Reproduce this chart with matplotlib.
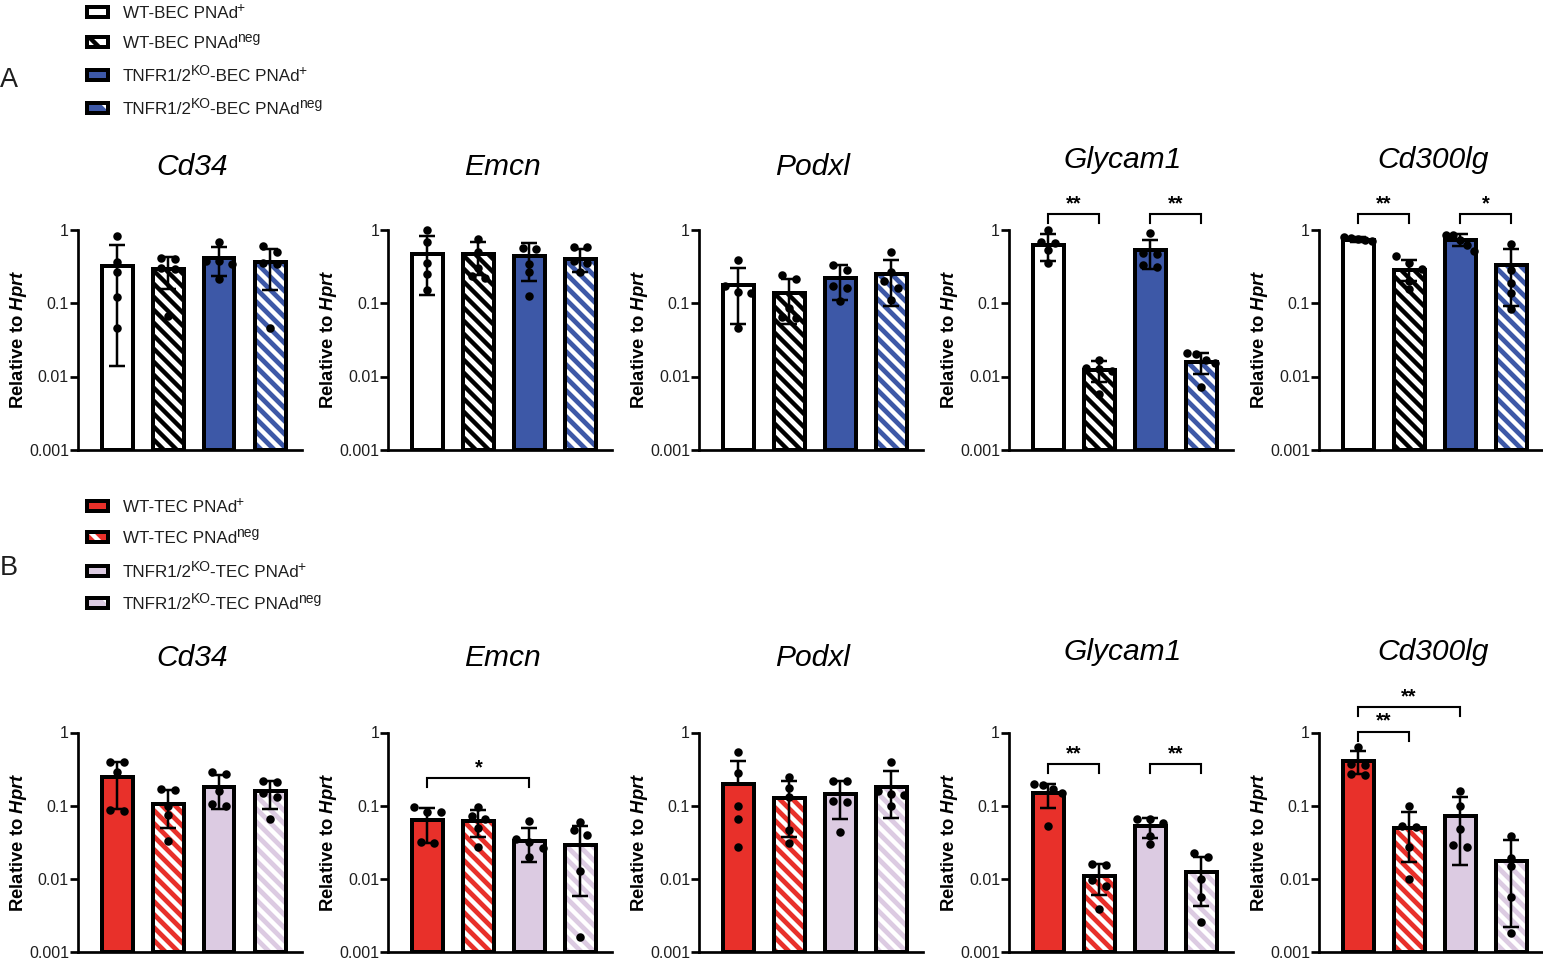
import re
import numpy as np
import matplotlib
matplotlib.use("Agg")
import matplotlib.pyplot as plt
from matplotlib.patches import Rectangle
from matplotlib.ticker import NullLocator, FixedLocator, FixedFormatter

# ---------------- data ----------------
genes = ["Cd34", "Emcn", "Podxl", "Glycam1", "Cd300lg"]

# legend labels, ^{...} marks a superscript
bec_labels = ["WT-BEC PNAd^{+}", "WT-BEC PNAd^{neg}",
              "TNFR1/2^{KO}-BEC PNAd^{+}", "TNFR1/2^{KO}-BEC PNAd^{neg}"]
tec_labels = ["WT-TEC PNAd^{+}", "WT-TEC PNAd^{neg}",
              "TNFR1/2^{KO}-TEC PNAd^{+}", "TNFR1/2^{KO}-TEC PNAd^{neg}"]

# BEC (panel A): bar heights, error bar upper / lower ends, individual points
bec_mean = [[0.316, 0.294, 0.41, 0.36],
            [0.47, 0.46, 0.43, 0.40],
            [0.175, 0.135, 0.22, 0.245],
            [0.61, 0.0124, 0.52, 0.0158],
            [0.73, 0.285, 0.72, 0.327]]
bec_hi = [[0.61, 0.42, 0.58, 0.55],
          [0.81, 0.68, 0.65, 0.55],
          [0.295, 0.215, 0.33, 0.39],
          [0.86, 0.0165, 0.72, 0.021],
          [0.78, 0.38, 0.88, 0.55]]
bec_lo = [[0.0138, 0.157, 0.23, 0.149],
          [0.128, 0.24, 0.20, 0.26],
          [0.051, 0.051, 0.11, 0.09],
          [0.37, 0.0083, 0.29, 0.0107],
          [0.68, 0.20, 0.60, 0.09]]
bec_pts = [[[0.82, 0.36, 0.26, 0.12, 0.045], [0.41, 0.40, 0.30, 0.29, 0.066],
            [0.68, 0.37, 0.37, 0.34, 0.21], [0.60, 0.50, 0.35, 0.34, 0.045]],
           [[1.0, 0.67, 0.35, 0.25, 0.15], [0.75, 0.50, 0.30, 0.23, 0.22],
            [0.56, 0.55, 0.34, 0.26, 0.125], [0.58, 0.57, 0.37, 0.35, 0.26]],
           [[0.38, 0.17, 0.14, 0.135, 0.045], [0.24, 0.21, 0.085, 0.065, 0.062],
            [0.33, 0.28, 0.17, 0.16, 0.105], [0.50, 0.26, 0.20, 0.16, 0.11]],
           [[0.98, 0.68, 0.66, 0.52, 0.35], [0.017, 0.013, 0.0125, 0.012, 0.0058],
            [0.90, 0.48, 0.46, 0.33, 0.31], [0.021, 0.020, 0.017, 0.0155, 0.0072]],
           [[0.78, 0.76, 0.74, 0.72, 0.70], [0.43, 0.35, 0.29, 0.20, 0.157],
            [0.85, 0.84, 0.72, 0.61, 0.51], [0.64, 0.28, 0.19, 0.135, 0.084]]]
# significance: (bar i, bar j, bracket height, label)
bec_sig = [[], [], [],
           [(0, 1, 1.6, "**"), (2, 3, 1.6, "**")],
           [(0, 1, 1.6, "**"), (2, 3, 1.6, "*")]]

# TEC (panel B)
tec_mean = [[0.247, 0.107, 0.18, 0.16],
            [0.064, 0.062, 0.033, 0.029],
            [0.20, 0.126, 0.143, 0.18],
            [0.15, 0.0108, 0.052, 0.0124],
            [0.41, 0.049, 0.073, 0.0178]]
tec_hi = [[0.40, 0.166, 0.26, 0.22],
          [0.094, 0.087, 0.05, 0.052],
          [0.41, 0.22, 0.22, 0.30],
          [0.20, 0.0162, 0.067, 0.020],
          [0.55, 0.081, 0.13, 0.0335]]
tec_lo = [[0.091, 0.049, 0.091, 0.091],
          [0.031, 0.037, 0.017, 0.0058],
          [np.nan, 0.037, 0.065, 0.067],
          [0.092, 0.006, 0.036, 0.0042],
          [0.27, 0.0168, 0.0153, 0.0022]]
tec_pts = [[[0.40, 0.39, 0.29, 0.087, 0.085], [0.17, 0.165, 0.10, 0.074, 0.033],
            [0.29, 0.27, 0.16, 0.105, 0.10], [0.22, 0.21, 0.15, 0.13, 0.066]],
           [[0.095, 0.083, 0.082, 0.032, 0.031], [0.096, 0.072, 0.065, 0.05, 0.027],
            [0.062, 0.035, 0.032, 0.026, 0.020], [0.059, 0.046, 0.04, 0.0128, 0.0016]],
           [[0.54, 0.28, 0.098, 0.066, 0.027], [0.25, 0.175, 0.13, 0.046, 0.031],
            [0.22, 0.215, 0.116, 0.113, 0.043], [0.39, 0.16, 0.145, 0.14, 0.098]],
           [[0.20, 0.19, 0.17, 0.15, 0.052], [0.016, 0.0155, 0.0095, 0.008, 0.0039],
            [0.066, 0.065, 0.058, 0.038, 0.030], [0.0225, 0.020, 0.0098, 0.0056, 0.0026]],
           [[0.64, 0.37, 0.36, 0.27, 0.26], [0.098, 0.052, 0.051, 0.027, 0.010],
            [0.16, 0.10, 0.048, 0.029, 0.027], [0.039, 0.019, 0.015, 0.0056, 0.0018]]]
tec_sig = [[], [(0, 2, 0.236, "*")], [],
           [(0, 1, 0.366, "**"), (2, 3, 0.366, "**")],
           [(0, 1, 1.02, "**"), (0, 2, 2.23, "**")]]

yticks = [0.001, 0.01, 0.1, 1]
ytick_labels = ["0.001", "0.01", "0.1", "1"]

# ---------------- style ----------------
DPI = 78
W, H = 1543, 959


def P(px):
    return px * 72.0 / DPI


plt.rcParams['font.family'] = ['Liberation Sans', 'DejaVu Sans']
plt.rcParams['mathtext.fontset'] = 'custom'
plt.rcParams['mathtext.rm'] = 'Liberation Sans'
plt.rcParams['mathtext.it'] = 'Liberation Sans:italic:bold'
plt.rcParams['mathtext.bf'] = 'Liberation Sans:bold'
plt.rcParams['hatch.linewidth'] = P(4.4)

HATCH = '\\\\'
BLUE = "#3D58A7"
RED = "#E8302A"
LAV = "#DCCBE2"
TXT = "#1E1E1E"
bec_face = ["white", "white", BLUE, BLUE]
bec_hcol = [None, "black", None, "white"]
tec_face = [RED, RED, LAV, LAV]
tec_hcol = [None, "white", None, "white"]

fig = plt.figure(figsize=(W / DPI, H / DPI), dpi=DPI)
renderer = fig.canvas.get_renderer()


def fx(px):
    return px / W


def fy(py):
    return 1 - py / H


AX_LEFT = [78, 388.5, 699, 1009, 1319]
AX_W = 224
PX_PER_UNIT = 51.0
XMIN = -39.0 / PX_PER_UNIT
XMAX = XMIN + AX_W / PX_PER_UNIT
BAR_W = 31.0 / PX_PER_UNIT
EDGE = P(4)
LABEL_X = 49  # px from axis line to y-label baseline


def offsets(vals, px_per_dec):
    lv = np.log10(np.asarray(vals, float))
    order = np.argsort(-lv)
    off = np.zeros(len(lv))
    clusters = []
    cur = [order[0]]
    for k in order[1:]:
        if (lv[cur[-1]] - lv[k]) * px_per_dec < 7.5:
            cur.append(k)
        else:
            clusters.append(cur)
            cur = [k]
    clusters.append(cur)
    for c in clusters:
        n = len(c)
        if n > 1:
            sp = min(0.26, 0.55 / (n - 1))
            for m, k in enumerate(c):
                off[k] = (m - (n - 1) / 2) * sp
    return off


def draw_row(top, bot, means, his, los, pts, sigs, faces, hcols, title_y):
    px_per_dec = (bot - top) / 3.0
    for g in range(5):
        ax = fig.add_axes([fx(AX_LEFT[g]), fy(bot), AX_W / W, (bot - top) / H])
        ax.set_yscale('log')
        ax.set_ylim(1e-3, 1)
        ax.set_xlim(XMIN, XMAX)
        for b in range(4):
            m = means[g][b]
            if hcols[b] is not None:
                ax.bar(b, m - 1e-3, bottom=1e-3, width=BAR_W, color=faces[b],
                       edgecolor=hcols[b], linewidth=0, hatch=HATCH, zorder=1)
            else:
                ax.bar(b, m - 1e-3, bottom=1e-3, width=BAR_W, color=faces[b],
                       linewidth=0, zorder=1)
            ax.bar(b, m - 1e-3, bottom=1e-3, width=BAR_W, facecolor='none',
                   edgecolor='black', linewidth=EDGE, zorder=2)
            lo = los[g][b]
            lower = 0.0 if np.isnan(lo) else m - lo
            ax.errorbar([b], [m], yerr=[[lower], [his[g][b] - m]], fmt='none',
                        ecolor='black', elinewidth=P(2.5), capsize=P(8),
                        capthick=P(2.5), zorder=3)
            v = pts[g][b]
            ax.scatter(b + offsets(v, px_per_dec), v, s=P(8.5) ** 2, color='black',
                       linewidths=0, zorder=4, clip_on=False)
        for (i, j, yb, lab) in sigs[g]:
            yt = yb / 10 ** (9.0 / px_per_dec)
            ax.plot([i, i, j, j], [yt, yb, yb, yt], color='black', lw=P(2.1),
                    clip_on=False, solid_joinstyle='miter')
            ax.annotate(lab, xy=((i + j) / 2, yb), xytext=(0, P(1)),
                        textcoords='offset points', ha='center', va='bottom',
                        fontsize=P(20), fontweight='bold', annotation_clip=False)
        for s in ['top', 'right']:
            ax.spines[s].set_visible(False)
        for s in ['left', 'bottom']:
            ax.spines[s].set_linewidth(P(2.7))
        ax.yaxis.set_major_locator(FixedLocator(yticks))
        ax.yaxis.set_major_formatter(FixedFormatter(ytick_labels))
        ax.yaxis.set_minor_locator(NullLocator())
        ax.set_xticks([])
        ax.tick_params(axis='y', length=P(8), width=P(2.7), pad=P(1),
                       labelsize=P(16), labelcolor=TXT)
        ax.set_ylabel("Relative to $\\mathit{Hprt}$", fontsize=P(18.5),
                      fontweight='bold', labelpad=0)
        ax.yaxis.set_label_coords(-LABEL_X / AX_W, 0.5)
        fig.text(fx(AX_LEFT[g] + 114), fy(title_y[g]), genes[g], ha='center',
                 va='center', fontsize=P(30), fontstyle='italic')


def rich_text(x_px, y_base_px, label, size_px):
    parts = [p for p in re.split(r'(\^\{[^}]*\})', label) if p]
    x = x_px
    for k, part in enumerate(parts):
        sup = part.startswith('^{')
        if sup:
            s, dy, fs = part[2:-1], size_px * 0.36, size_px * 0.82
        else:
            s, dy, fs = part, 0.0, size_px
        t = fig.text(fx(x), fy(y_base_px - dy), s, ha='left', va='baseline',
                     fontsize=P(fs), color=TXT)
        bb = t.get_window_extent(renderer)
        nxt_sup = k + 1 < len(parts) and parts[k + 1].startswith('^{')
        x += bb.width + (-1.5 if nxt_sup else 0.0)


def draw_legend(ycs, labels, faces, hcols):
    for yc, lab, fc, hc in zip(ycs, labels, faces, hcols):
        x0, w, h = 87, 21.5, 10
        if hc is not None:
            fig.add_artist(Rectangle((fx(x0), fy(yc + h / 2)), w / W, h / H,
                                     transform=fig.transFigure, facecolor=fc,
                                     edgecolor=hc, linewidth=0, hatch='\\'))
        else:
            fig.add_artist(Rectangle((fx(x0), fy(yc + h / 2)), w / W, h / H,
                                     transform=fig.transFigure, facecolor=fc,
                                     linewidth=0))
        fig.add_artist(Rectangle((fx(x0), fy(yc + h / 2)), w / W, h / H,
                                 transform=fig.transFigure, facecolor='none',
                                 edgecolor='black', linewidth=P(4)))
        rich_text(123, yc + 6, lab, 17)


draw_legend([12, 42, 75, 108], bec_labels, bec_face, bec_hcol)
draw_legend([506, 537, 571, 603], tec_labels, tec_face, tec_hcol)
fig.text(fx(0), fy(80), "A", ha='left', va='center', fontsize=P(27), color=TXT)
fig.text(fx(0), fy(568), "B", ha='left', va='center', fontsize=P(27), color=TXT)

draw_row(229.5, 450, bec_mean, bec_hi, bec_lo, bec_pts, bec_sig, bec_face, bec_hcol,
         [167, 167, 167, 160, 160])
draw_row(732.5, 952, tec_mean, tec_hi, tec_lo, tec_pts, tec_sig, tec_face, tec_hcol,
         [658, 658, 658, 652, 652])

fig.savefig("out.png", dpi=DPI)
